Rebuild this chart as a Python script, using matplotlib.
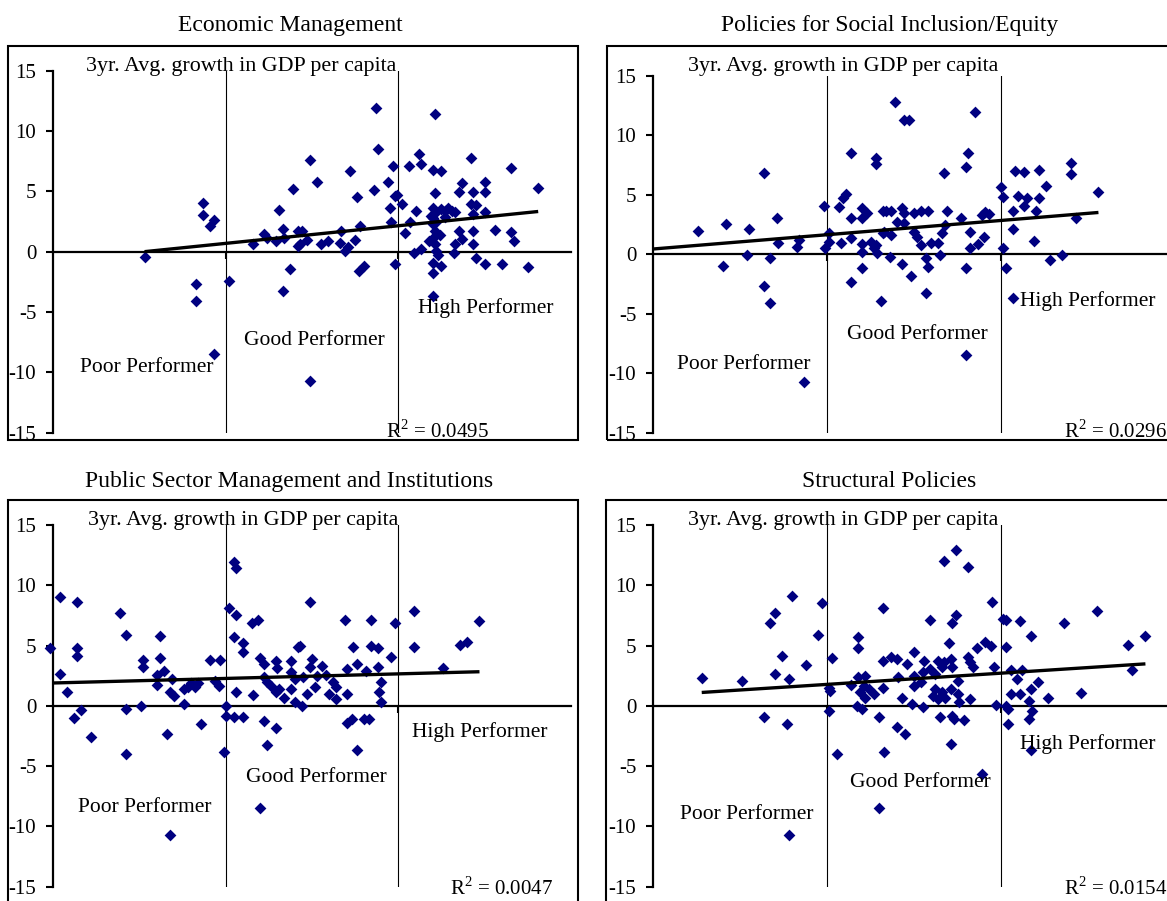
import matplotlib
matplotlib.use("Agg")
import matplotlib.pyplot as plt
import numpy as np
from matplotlib.patches import Rectangle

plt.rcParams['font.family'] = ['Liberation Serif', 'DejaVu Serif']
plt.rcParams['mathtext.fontset'] = 'custom'
plt.rcParams['mathtext.rm'] = 'Liberation Serif'
plt.rcParams['axes.unicode_minus'] = False

# ---------------- data (x = rating, y = 3yr avg growth in GDP per capita) -------------
econ_pts = [
    (2.53, -0.44), (2.87, 4.03), (2.87, 3.06), (2.91, 2.14), (2.93, 2.61), (2.83, -2.67),
    (2.83, -4.11), (2.93, -8.50),
    (3.02, -2.39), (3.16, 0.67), (3.22, 1.44), (3.24, 1.11), (3.29, 0.89), (3.31, 3.44),
    (3.33, 1.92), (3.34, 1.17), (3.37, -1.47), (3.33, -3.28), (3.39, 5.19), (3.42, 1.72),
    (3.44, 1.72), (3.42, 0.47), (3.43, 0.61), (3.47, 0.94), (3.49, 7.61), (3.53, 5.75),
    (3.55, 0.61), (3.49, -10.72), (3.59, 0.89), (3.66, 0.75), (3.67, 1.72), (3.69, 0.06),
    (3.71, 0.39), (3.72, 6.72), (3.75, 0.94), (3.76, 4.50), (3.78, 2.14), (3.77, -1.56),
    (3.80, -1.19), (3.86, 5.11), (3.87, 11.94), (3.88, 8.47), (3.94, 5.75), (3.95, 3.61),
    (3.96, 2.42), (3.98, 4.64), (3.99, 4.70), (3.97, 7.14), (3.98, -1.00),
    (4.02, 3.94), (4.04, 1.58), (4.06, 7.14), (4.07, 2.42), (4.09, -0.08), (4.10, 3.39),
    (4.12, 8.11), (4.13, 7.28), (4.13, 0.20), (4.20, 6.78), (4.25, 6.72), (4.21, 11.44),
    (4.21, 4.83), (4.20, 3.60), (4.22, 3.30), (4.25, 3.50), (4.27, 3.40), (4.29, 3.60),
    (4.31, 3.40), (4.33, 3.30), (4.20, 2.83), (4.20, 2.28), (4.21, 1.72), (4.20, 1.17),
    (4.21, 0.61), (4.22, 0.06), (4.23, -0.30), (4.18, 0.90), (4.20, -0.92), (4.25, -1.19),
    (4.20, -1.75), (4.20, -3.69), (4.32, -0.08), (4.35, 4.92), (4.35, 1.72), (4.37, 1.06),
    (4.37, 5.69), (4.33, 0.64), (4.42, 7.75), (4.43, 4.92), (4.42, 3.97), (4.45, 3.86),
    (4.43, 3.14), (4.43, 1.72), (4.43, 0.64), (4.45, -0.50), (4.50, 5.75), (4.50, 4.92),
    (4.50, 3.25), (4.50, -1.00), (4.56, 1.78), (4.60, -1.00), (4.65, 6.92), (4.65, 1.67),
    (4.67, 0.89), (4.75, -1.28), (4.81, 5.28), (4.22, 2.50), (4.24, 1.40), (4.19, 3.00),
    (4.27, 2.90),
]
social_pts = [
    (2.26, 1.96), (2.42, 2.52), (2.40, -0.98), (2.55, 2.13), (2.54, -0.06), (2.64, 6.81),
    (2.64, -2.63), (2.67, -4.12), (2.67, -0.34), (2.71, 3.08), (2.72, 0.92), (2.83, 0.64),
    (2.84, 1.20), (2.87, -10.76), (2.98, 4.09), (2.99, 0.56),
    (3.01, 1.76), (3.01, 1.00), (3.08, 0.92), (3.07, 4.00), (3.09, 4.70), (3.11, 5.04),
    (3.14, 8.49), (3.14, 3.08), (3.14, 1.34), (3.14, -2.30), (3.20, 3.87), (3.20, 3.03),
    (3.23, 3.45), (3.20, 0.84), (3.20, 0.22), (3.20, -1.12), (3.28, 8.12), (3.28, 7.56),
    (3.25, 1.06), (3.29, 0.08), (3.28, 0.78), (3.31, -3.92), (3.32, 3.64), (3.32, 1.76),
    (3.39, 12.83), (3.44, 11.34), (3.47, 11.34), (3.85, 11.99), (3.81, 8.49), (3.80, 7.31),
    (3.67, 6.81), (3.57, -3.28), (3.80, -1.18), (3.48, -1.79), (3.43, -0.84), (3.57, -0.28),
    (3.58, -1.04), (3.36, -0.20), (3.65, -0.06), (3.82, 0.56), (3.87, 0.84), (3.90, 1.48),
    (3.82, 1.85), (3.66, 1.76), (3.68, 2.46), (3.60, 0.92), (3.64, 0.92), (3.52, 1.48),
    (3.54, 0.78), (3.50, 1.90), (3.77, 3.03), (3.69, 3.64), (3.89, 3.30), (3.91, 3.60),
    (3.93, 3.40), (3.34, 3.64), (3.37, 3.64), (3.43, 3.87), (3.44, 3.45), (3.50, 3.45),
    (3.54, 3.64), (3.58, 3.64), (3.40, 2.74), (3.44, 2.60), (3.33, 1.90), (3.37, 1.62),
    (3.27, 0.50), (3.80, -8.46),
    (4.00, 5.69), (4.01, 4.85), (4.08, 7.03), (4.13, 6.95), (4.22, 7.09), (4.26, 5.74),
    (4.40, 7.70), (4.40, 6.72), (4.56, 5.21), (4.10, 4.90), (4.15, 4.70), (4.13, 4.09),
    (4.22, 4.76), (4.07, 3.64), (4.20, 3.64), (4.43, 3.03), (4.07, 2.10), (4.19, 1.12),
    (4.01, 0.56), (4.03, -1.12), (4.28, -0.48), (4.35, -0.06), (4.07, -3.70),
]
public_pts = [
    (1.98, 4.78), (2.04, 9.03), (2.04, 2.64), (2.08, 1.19), (2.14, 8.61), (2.14, 4.78),
    (2.14, 4.17), (2.12, -0.97), (2.16, -0.33), (2.22, -2.58), (2.39, 7.72), (2.42, 5.89),
    (2.42, -0.28), (2.42, -4.03), (2.51, 0.00), (2.52, 3.81), (2.52, 3.19), (2.60, 1.72),
    (2.62, 5.83), (2.62, 3.94), (2.60, 2.56), (2.64, 2.92), (2.66, -2.36), (2.68, -10.69),
    (2.68, 1.11), (2.70, 0.78), (2.69, 2.22), (2.76, 0.14), (2.76, 1.40), (2.78, 1.60),
    (2.80, 1.90), (2.82, 1.60), (2.84, 1.90), (2.86, -1.53), (2.91, 3.81), (2.94, 2.08),
    (2.96, 1.67), (2.97, 3.81), (2.99, -3.83), (3.00, 0.00), (3.00, -0.83),
    (3.02, 8.11), (3.05, 11.94), (3.06, 11.44), (3.06, 7.50), (3.05, 5.69), (3.06, 1.11),
    (3.05, -0.92), (3.10, 5.19), (3.10, 4.50), (3.10, -0.92), (3.15, 6.86), (3.19, 7.14),
    (3.16, 0.89), (3.20, -8.47), (3.20, 3.94), (3.22, -1.25), (3.24, -3.28), (3.29, -1.81),
    (3.22, 3.47), (3.22, 2.36), (3.24, 1.94), (3.26, 1.67), (3.29, 3.75), (3.30, 3.11),
    (3.29, 1.11), (3.31, 1.39), (3.34, 0.69), (3.38, 3.75), (3.38, 1.39), (3.40, 0.28),
    (3.38, 2.78), (3.42, 4.86), (3.49, 8.61), (3.69, 7.08), (3.84, 7.14), (3.98, 6.89),
    (3.43, 5.00), (3.74, 4.92), (3.84, 5.00), (3.88, 4.78), (3.96, 4.03), (3.50, 3.89),
    (3.49, 3.19), (3.56, 3.33), (3.53, 2.50), (3.70, 3.06), (3.76, 3.47), (3.81, 2.92),
    (3.88, 3.19), (3.90, 2.00), (3.89, 1.11), (3.90, 0.28), (3.40, 2.22), (3.64, 1.53),
    (3.60, 0.97), (3.64, 0.56), (3.70, 0.97), (3.44, 0.00), (3.70, -1.39), (3.73, -1.11),
    (3.80, -1.11), (3.83, -1.06), (3.76, -3.69), (3.45, 2.40), (3.47, 1.00), (3.52, 1.60),
    (3.58, 2.60), (3.62, 2.00),
    (4.09, 7.83), (4.47, 7.00), (4.09, 4.92), (4.36, 5.06), (4.40, 5.28), (4.26, 3.11),
]
struct_pts = [
    (2.28, 2.31), (2.51, 2.03), (2.64, -0.89), (2.67, 6.86), (2.70, 7.72), (2.70, 2.64),
    (2.74, 4.17), (2.77, -1.53), (2.78, 2.22), (2.78, -10.75), (2.80, 9.08), (2.88, 3.39),
    (2.95, 5.89), (2.97, 8.56),
    (3.01, 1.44), (3.02, 1.25), (3.01, -0.42), (3.03, 3.97), (3.06, -4.03), (3.14, 1.72),
    (3.18, 5.69), (3.18, 4.78), (3.17, 0.00), (3.20, -0.28), (3.18, 2.36), (3.22, 2.50),
    (3.21, 1.67), (3.19, 1.11), (3.22, 0.69), (3.24, 1.39), (3.27, 0.97), (3.30, -0.89),
    (3.30, -8.47), (3.32, 3.75), (3.32, 8.11), (3.32, 1.44), (3.33, -3.83),
    (3.74, 12.92), (3.67, 12.00), (3.81, 11.53), (3.95, 8.61), (3.59, 7.14), (3.74, 7.50),
    (3.72, 6.86), (3.70, 5.19), (3.91, 5.28), (3.94, 5.00), (3.86, 4.78), (3.81, 4.03),
    (3.50, 4.50), (3.37, 4.03), (3.40, 3.89), (3.46, 3.47), (3.56, 3.75), (3.64, 3.75),
    (3.67, 3.61), (3.71, 3.89), (3.72, 3.19), (3.66, 3.19), (3.84, 3.19), (3.82, 3.61),
    (3.96, 3.19), (3.41, 2.36), (3.50, 2.50), (3.55, 2.78), (3.59, 3.06), (3.62, 2.64),
    (3.50, 1.67), (3.54, 1.94), (3.62, 1.39), (3.66, 1.11), (3.71, 1.39), (3.75, 2.08),
    (3.43, 0.69), (3.49, 0.14), (3.55, -0.06), (3.61, 0.83), (3.64, 0.56), (3.68, 0.69),
    (3.75, 0.97), (3.76, 0.28), (3.82, 0.56), (3.97, 0.06), (3.40, -1.75), (3.45, -2.36),
    (3.65, -0.92), (3.72, -0.83), (3.73, -1.11), (3.79, -1.19), (3.71, -3.19), (3.89, -5.64),
    (4.01, 7.22), (4.03, 7.14), (4.11, 7.03), (4.36, 6.89), (4.55, 7.83), (4.17, 5.83),
    (4.83, 5.83), (4.73, 5.06), (4.75, 3.00), (4.03, 4.92), (4.06, 3.00), (4.12, 3.00),
    (4.09, 2.22), (4.21, 2.00), (4.03, 0.00), (4.04, -0.22), (4.06, 0.97), (4.11, 0.97),
    (4.17, 1.39), (4.16, 0.42), (4.18, -0.42), (4.16, -1.11), (4.27, 0.61), (4.46, 1.03),
    (4.04, -1.47), (4.17, -3.69),
]

# linear trend lines: (slope, intercept, x_start, x_end)
econ_trend = (1.46, -3.69, 2.53, 4.81)
social_trend = (1.20, -1.95, 2.00, 4.56)
public_trend = (0.378, 1.14, 1.98, 4.47)
struct_trend = (0.93, -1.01, 2.28, 4.83)

titles = ["Economic Management", "Policies for Social Inclusion/Equity",
          "Public Sector Management and Institutions", "Structural Policies"]
r2_values = ["0.0495", "0.0296", "0.0047", "0.0154"]
y_ticks = [-15, -10, -5, 0, 5, 10, 15]
thresholds = [3, 4]
y_label = "3yr. Avg. growth in GDP per capita"
group_labels = ["Poor Performer", "Good Performer", "High Performer"]

# ---------------- layout (pixels) ----------------
W, H = 1167, 901
fig = plt.figure(figsize=(W / 100, H / 100), dpi=100)
NAVY = "#000080"


def px_axes(l, r, t, b):
    return fig.add_axes([l / W, 1 - b / H, (r - l) / W, (b - t) / H])


def ftext(x, y, s, size, ha="left"):
    fig.text(x / W, 1 - y / H, s, fontsize=size, ha=ha, va="baseline")


def frame(x0, y0, x1, y1):
    fig.add_artist(Rectangle((x0 / W, 1 - y1 / H), (x1 - x0) / W, (y1 - y0) / H,
                             transform=fig.transFigure, fill=False, lw=1.5,
                             ec="black", zorder=0))


panels = [
    dict(pts=econ_pts, trend=econ_trend, ax=(53, 571, 70.7, 432.7),
         frame=(7.5, 46.5, 578, 440),
         title=(290, 31.5), ylab=(86, 70.5), poor=(80, 372.5), good=(244, 345),
         high=(418, 312.5), r2=(386, 438)),
    dict(pts=social_pts, trend=social_trend, ax=(653, 1175, 76, 432.7),
         frame=(606.5, 46.5, 1180, 440),
         title=(890, 31.5), ylab=(688, 71), poor=(677, 369), good=(847, 339),
         high=(1020, 306.5), r2=(1064, 438)),
    dict(pts=public_pts, trend=public_trend, ax=(53, 571, 525, 886.7),
         frame=(7.5, 500.5, 578, 910),
         title=(289.5, 487), ylab=(88, 525), poor=(78, 812.5), good=(246, 782.5),
         high=(412.5, 736.5), r2=(450, 895)),
    dict(pts=struct_pts, trend=struct_trend, ax=(653, 1175, 525, 886.7),
         frame=(606, 500.5, 1180, 910),
         title=(889.5, 487), ylab=(688, 525), poor=(680, 819), good=(850, 787),
         high=(1020, 748.5), r2=(1064, 895)),
]

for i, p in enumerate(panels):
    frame(*p["frame"])
    ax = px_axes(*p["ax"])
    ax.set_xlim(2, 5)
    ax.set_ylim(-15, 15)
    ax.patch.set_alpha(0)
    pts = np.array(p["pts"])
    ax.scatter(pts[:, 0], pts[:, 1], marker="D", s=36, color=NAVY, linewidths=0,
               zorder=3, clip_on=False)
    slope, icpt, xs, xe = p["trend"]
    tx = np.array([xs, xe])
    ax.plot(tx, icpt + slope * tx, color="black", lw=2.4, zorder=4,
            solid_capstyle="butt")
    for t in thresholds:
        ax.axvline(t, color="black", lw=0.8, zorder=2)
    for s in ["top", "right"]:
        ax.spines[s].set_visible(False)
    ax.spines["bottom"].set_position(("data", 0))
    ax.spines["bottom"].set_linewidth(1.6)
    ax.spines["left"].set_linewidth(1.6)
    ax.set_yticks(y_ticks)
    ax.set_yticklabels([str(v) for v in y_ticks])
    ax.set_xticks(thresholds)
    ax.set_xticklabels([])
    ax.tick_params(axis="y", direction="out", length=5, width=1.5, pad=7,
                   labelsize=15)
    ax.tick_params(axis="x", direction="out", length=5, width=1.5)

    ftext(*p["title"], titles[i], 17, ha="center")
    ftext(*p["ylab"], y_label, 15.8)
    ftext(*p["poor"], group_labels[0], 15.5)
    ftext(*p["good"], group_labels[1], 15.5)
    ftext(*p["high"], group_labels[2], 15.5)
    ftext(*p["r2"], "R$^{2}$ = " + r2_values[i], 15)

fig.savefig("out.png", dpi=100)
